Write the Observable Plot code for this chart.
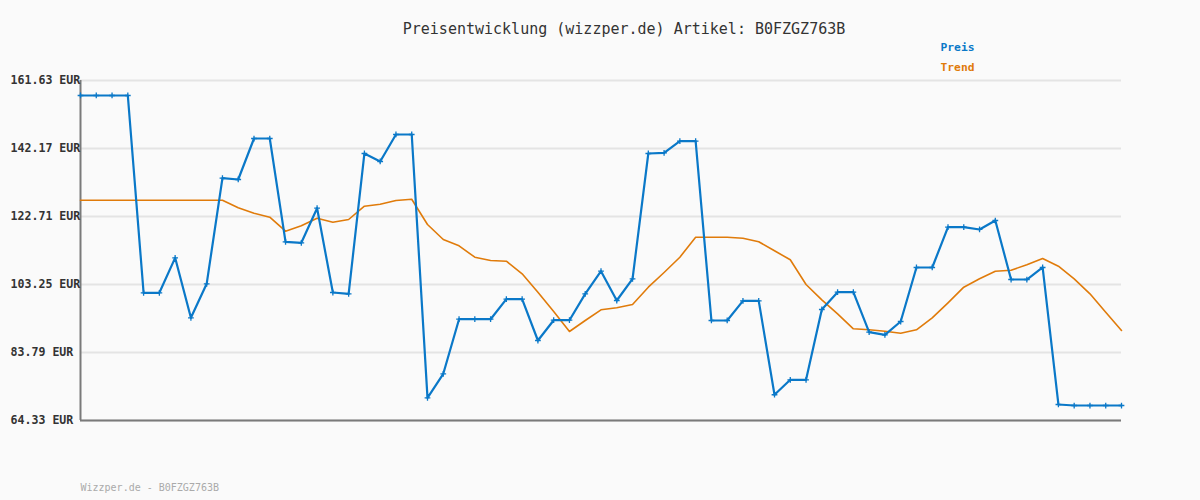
<!DOCTYPE html>
<html>
<head>
<meta charset="utf-8">
<script src="https://cdn.jsdelivr.net/npm/d3@7"></script>
<script src="https://cdn.jsdelivr.net/npm/@observablehq/plot@0.6"></script>
<style>
  html, body { margin: 0; padding: 0; background: #fafafa; }
  #chart { width: 1200px; height: 500px; }
</style>
</head>
<body>
<div id="chart"></div>
<script>
const titleText = "Preisentwicklung (wizzper.de) Artikel: B0FZGZ763B";
const footerText = "Wizzper.de - B0FZGZ763B";
const seriesNames = ["Preis", "Trend"];
const seriesColors = ["#0a78c8", "#e07b0a"];
const yTicks = [161.63, 142.17, 122.71, 103.25, 83.79, 64.33];

const preis = [
  157.34, 157.34, 157.34, 157.34, 100.87, 100.87, 110.88, 93.71, 103.45, 133.67,
  133.30, 145.03, 145.03, 115.47, 115.18, 125.09, 100.96, 100.58, 140.74, 138.45,
  146.18, 146.18, 70.82, 77.69, 93.32, 93.32, 93.32, 99.05, 99.05, 87.22,
  93.03, 93.03, 100.58, 107.06, 98.67, 104.88, 140.74, 140.94, 144.26, 144.26,
  92.95, 92.95, 98.58, 98.58, 71.70, 75.98, 75.98, 96.10, 101.05, 101.05,
  89.60, 88.85, 92.66, 108.12, 108.12, 119.65, 119.65, 119.00, 121.56, 104.68,
  104.68, 108.12, 68.91, 68.62, 68.62, 68.62, 68.62
];
const trend = [
  127.38, 127.38, 127.38, 127.38, 127.38, 127.38, 127.38, 127.38, 127.38, 127.38,
  125.20, 123.65, 122.51, 118.50, 120.05, 122.22, 121.08, 121.85, 125.66, 126.23,
  127.30, 127.66, 120.42, 116.13, 114.33, 111.06, 110.12, 109.92, 106.31, 101.05,
  95.52, 89.80, 92.95, 96.01, 96.58, 97.53, 102.48, 106.68, 111.06, 116.79,
  116.79, 116.79, 116.50, 115.50, 112.90, 110.32, 103.25, 98.87, 94.86, 90.57,
  90.28, 89.89, 89.31, 90.28, 93.72, 98.01, 102.48, 104.88, 107.06, 107.34,
  108.89, 110.69, 108.49, 104.88, 100.58, 95.33, 90.09
];

const preisData = preis.map((v, i) => ({i, v}));
const trendData = trend.map((v, i) => ({i, v}));
const font = "'DejaVu Sans Mono', 'Liberation Mono', monospace";

const chart = Plot.plot({
  width: 1200,
  height: 500,
  marginLeft: 80,
  marginRight: 79,
  marginTop: 80,
  marginBottom: 80,
  style: { background: "#fafafa", fontFamily: font },
  x: { domain: [0, preis.length - 1], axis: null },
  y: { domain: [yTicks[yTicks.length - 1], yTicks[0]], axis: null },
  marks: [
    Plot.gridY(yTicks, { stroke: "#e4e4e4", strokeWidth: 2, strokeOpacity: 1 }),
    Plot.ruleX([0], { stroke: "#7a7a7a", strokeWidth: 2 }),
    Plot.ruleY([yTicks[yTicks.length - 1]], { stroke: "#7a7a7a", strokeWidth: 2 }),
    Plot.text(yTicks, {
      y: d => d, frameAnchor: "left", dx: -70, textAnchor: "start",
      text: d => d.toFixed(2) + " EUR", fontWeight: "bold", fontSize: 11.6, fill: "#333"
    }),
    Plot.line(trendData, { x: "i", y: "v", stroke: seriesColors[1], strokeWidth: 1.6 }),
    Plot.line(preisData, { x: "i", y: "v", stroke: seriesColors[0], strokeWidth: 2.2 }),
    Plot.dot(preisData, { x: "i", y: "v", symbol: "plus", r: 2, stroke: seriesColors[0], strokeWidth: 1.3 }),
    Plot.text([titleText], { frameAnchor: "top", dx: 23, dy: -57, text: d => d, fontSize: 15, fill: "#333" }),
    Plot.text([seriesNames[0]], { frameAnchor: "top-right", dx: -181, dy: -38, textAnchor: "start", text: d => d, fontSize: 11.3, fontWeight: "bold", fill: seriesColors[0] }),
    Plot.text([seriesNames[1]], { frameAnchor: "top-right", dx: -181, dy: -18, textAnchor: "start", text: d => d, fontSize: 11.3, fontWeight: "bold", fill: seriesColors[1] }),
    Plot.text([footerText], { frameAnchor: "bottom-left", dy: 70, textAnchor: "start", text: d => d, fontSize: 10, fill: "#aaa" })
  ]
});
document.getElementById("chart").appendChild(chart);
</script>
</body>
</html>
